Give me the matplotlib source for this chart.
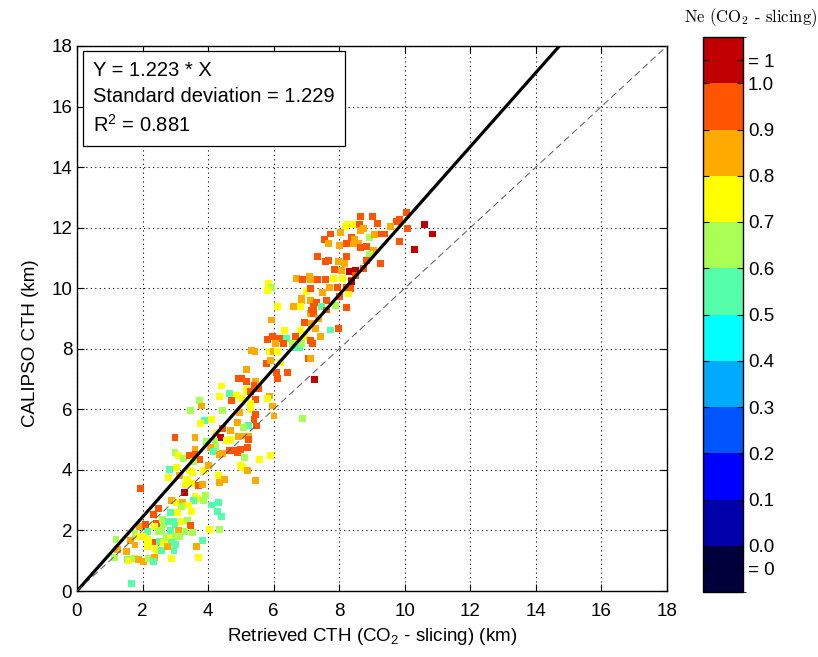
import numpy as np
import matplotlib
matplotlib.use('Agg')
import matplotlib.pyplot as plt
from matplotlib.colors import ListedColormap, BoundaryNorm
from matplotlib.cm import ScalarMappable

plt.rcParams['font.family'] = ['Liberation Sans', 'DejaVu Sans']

# Ne class values used for the point colours
T, G, Y, O, RO, DR = 0.55, 0.65, 0.75, 0.85, 0.95, 1.0

# retrieved CTH (CO2 slicing), CALIPSO CTH, Ne
cth_co2 = [
    1.95, 3.32, 3.52, 3.70, 3.82, 3.27, 3.60, 3.68, 3.91, 4.09, 3.55, 3.87, 2.89, 3.04, 3.21, 3.19, 3.40, 3.48,
    2.50, 2.33, 2.43, 2.60, 2.84, 3.07, 1.92, 2.08, 2.16, 2.36, 2.63, 2.79, 2.94, 2.99, 3.19, 3.38, 3.45, 3.52,
    3.29, 3.11, 2.84, 2.58, 2.48, 4.03, 1.77, 1.87, 2.04, 2.16, 2.28, 2.40, 2.53, 2.63, 2.72, 2.84, 2.99, 3.14,
    2.89, 3.02, 1.19, 1.62, 1.77, 2.16, 2.38, 2.46, 2.58, 2.77, 2.96, 3.65, 3.82, 1.24, 1.52, 1.14, 1.55, 1.57,
    1.75, 1.87, 2.02, 2.18, 2.36, 2.33, 2.87, 3.70, 1.67,
    4.31, 4.42, 4.28, 4.36, 5.89,
    4.34, 4.65, 4.87, 4.72, 5.02, 5.18, 5.46, 5.30, 3.73, 3.80, 3.45, 4.44, 4.97, 5.28, 5.46, 5.40, 3.88, 3.77,
    4.09, 4.89, 5.23, 5.48, 4.44, 4.67, 5.07, 2.99, 3.60, 4.26, 4.38, 4.55, 4.69, 4.92, 5.07, 5.23, 5.23, 4.65,
    4.79, 4.89, 4.99, 5.20, 3.96, 4.21, 4.24, 4.08, 3.60, 4.16, 4.34, 4.44, 2.99, 3.09, 3.24, 3.43, 3.60, 3.73,
    3.55, 5.11, 5.58, 2.82, 3.04, 3.43, 3.53, 3.85, 4.01, 4.31, 4.49, 4.99, 5.06, 5.20, 5.46, 2.79, 3.14, 3.38,
    4.36,
    7.11, 7.21, 7.36, 6.93, 7.16, 5.94, 6.32, 6.82, 7.29, 5.81, 5.97, 6.17, 6.38, 6.68, 6.93, 7.11, 7.19, 6.07,
    6.29, 6.58, 6.68, 6.78, 6.85, 5.33, 5.43, 5.87, 5.99, 6.11, 7.06, 7.13, 5.77, 5.89, 6.21, 5.16, 6.09, 6.42,
    6.11, 4.92, 5.02, 5.18, 5.46, 5.40, 5.53, 7.26, 4.41, 5.16, 5.30, 5.87, 5.81, 5.97, 6.01, 6.88,
    7.74, 7.54, 7.67, 7.33, 7.57, 7.67, 7.09, 7.11, 6.70, 6.89, 7.33, 7.57, 5.84, 5.94, 5.81, 6.99, 7.13, 7.50,
    7.70, 6.85, 6.85, 7.11, 7.31, 7.62, 6.11, 6.60, 6.82, 7.21, 7.47, 7.16, 7.62, 7.74, 7.97, 7.44,
    8.65, 9.02, 8.25, 8.41, 8.20, 8.61, 8.73, 8.65, 9.16, 9.83, 9.75, 9.55, 10.08, 10.04, 10.59, 10.85, 10.31,
    9.85, 9.26, 9.37, 8.92, 9.09, 8.38, 8.48, 8.58, 8.43, 8.04, 8.00, 8.23, 8.65, 8.82, 9.06, 8.92, 8.21, 7.97,
    8.15, 9.26, 8.84, 8.74, 8.51, 8.31, 7.87, 8.07, 7.82, 8.10, 8.38, 8.51, 7.94, 8.21, 8.35, 8.28, 8.02, 7.90,
    8.23, 8.38,
]
cth_calipso = [
    3.39, 3.53, 3.56, 3.50, 3.53, 3.25, 3.12, 3.06, 3.14, 2.84, 2.98, 2.98, 2.98, 2.92, 2.92, 2.79, 2.84, 2.62,
    2.73, 2.54, 2.23, 2.37, 2.59, 2.59, 2.12, 2.21, 1.96, 2.12, 2.23, 2.29, 2.29, 2.18, 2.29, 2.32, 2.15, 1.93,
    1.96, 1.99, 2.01, 2.01, 1.96, 2.04, 1.90, 1.79, 1.79, 1.71, 1.60, 1.60, 1.63, 1.60, 1.77, 1.74, 1.79, 1.79,
    1.60, 1.55, 1.71, 1.66, 1.52, 1.46, 1.41, 1.33, 1.35, 1.46, 1.33, 1.46, 1.68, 1.37, 1.30, 1.11, 1.04, 1.00,
    1.08, 1.04, 0.97, 1.08, 1.11, 0.97, 1.08, 1.11, 0.25,
    2.92, 2.45, 2.62, 2.04, 4.49,
    6.42, 6.51, 6.47, 6.29, 6.36, 6.58, 6.33, 6.18, 6.29, 6.11, 5.95, 5.95, 5.89, 6.00, 5.84, 5.67, 5.62, 5.52,
    5.67, 5.56, 5.48, 5.45, 5.37, 5.30, 5.40, 5.07, 5.07, 5.21, 5.07, 4.96, 4.99, 5.10, 5.12, 5.12, 4.99, 4.63,
    4.65, 4.57, 4.68, 4.74, 4.93, 4.93, 4.77, 4.74, 4.68, 4.60, 4.52, 4.55, 4.57, 4.49, 4.38, 4.46, 4.52, 4.35,
    4.27, 4.40, 4.35, 4.02, 4.08, 3.97, 3.91, 3.97, 4.16, 3.80, 3.69, 4.13, 4.09, 3.97, 3.66, 3.75, 3.80, 3.69,
    3.58,
    9.15, 9.15, 9.00, 8.86, 8.84, 8.95, 8.60, 8.60, 8.67, 8.31, 8.40, 8.34, 8.34, 8.42, 8.42, 8.27, 8.16, 8.16,
    8.18, 8.18, 8.05, 8.05, 8.18, 7.94, 7.90, 7.90, 7.90, 7.90, 7.68, 7.68, 7.52, 7.61, 7.54, 7.32, 7.21, 7.21,
    7.02, 7.02, 7.02, 6.91, 6.91, 6.80, 6.69, 6.97, 6.77, 6.64, 6.58, 6.44, 6.36, 6.11, 5.78, 5.70,
    11.79, 11.61, 11.48, 11.06, 10.88, 10.93, 10.40, 10.29, 10.33, 10.29, 10.29, 10.29, 10.16, 10.03, 9.92, 9.88,
    9.99, 9.85, 10.03, 9.66, 9.58, 9.59, 9.52, 9.61, 9.39, 9.39, 9.41, 9.39, 9.41, 9.28, 9.28, 8.62, 8.67, 8.42,
    12.38, 12.38, 12.09, 12.12, 12.03, 12.12, 11.98, 11.90, 12.14, 12.27, 12.20, 12.03, 11.98, 12.49, 12.09,
    11.79, 11.28, 11.54, 11.79, 11.79, 11.68, 11.76, 11.68, 11.61, 11.48, 11.46, 11.83, 11.42, 11.48, 11.35,
    11.37, 11.26, 11.10, 11.06, 10.88, 10.82, 10.82, 10.93, 10.66, 10.58, 10.55, 10.62, 10.60, 10.33, 10.33,
    10.27, 10.43, 10.03, 10.03, 10.00, 9.81, 9.72, 9.44, 9.37, 10.22,
]
ne = [
    RO, Y, Y, RO, O, DR, Y, Y, G, T, T, G, O, Y, O, G, Y, Y,
    RO, RO, RO, G, T, Y, O, RO, T, Y, G, T, T, T, Y, G, RO, G,
    G, O, T, G, G, Y, G, Y, Y, Y, Y, RO, T, Y, G, Y, G, G,
    T, T, G, O, O, Y, Y, Y, T, O, T, O, T, O, O, G, T, Y,
    G, O, O, G, O, T, Y, Y, T,
    T, T, T, G, Y,
    Y, T, Y, RO, Y, Y, RO, Y, G, O, G, G, O, Y, RO, RO, T, Y,
    Y, O, T, RO, RO, O, G, RO, O, Y, DR, Y, Y, O, O, O, RO, RO,
    RO, RO, RO, RO, G, G, G, O, O, T, O, O, G, Y, G, RO, RO, RO,
    G, G, Y, T, Y, Y, Y, Y, O, Y, O, Y, Y, O, O, Y, O, Y,
    O,
    O, RO, O, RO, O, O, Y, Y, O, RO, RO, RO, T, RO, Y, RO, RO, O,
    RO, G, T, T, G, O, O, Y, O, Y, RO, O, RO, O, Y, O, RO, RO,
    RO, RO, RO, RO, O, RO, RO, DR, Y, Y, RO, O, Y, O, O, G,
    RO, RO, O, RO, RO, RO, O, O, O, RO, RO, RO, Y, G, Y, Y, RO, O,
    O, O, O, O, RO, RO, Y, O, Y, RO, T, RO, RO, T, RO, O,
    RO, RO, Y, Y, Y, RO, O, O, RO, RO, RO, O, RO, RO, DR, DR, DR,
    RO, RO, RO, G, O, RO, O, O, O, O, O, RO, RO, RO, O, G, RO, O,
    O, RO, RO, RO, DR, DR, RO, O, Y, Y, RO, RO, RO, RO, RO, Y, RO, G,
    RO, DR,
]

slope = 1.223
std_dev = 1.229
r2 = 0.881

# colour classes: "= 0", 0.0-0.1, ..., 0.9-1.0, "= 1"
class_colors = ['#00003c', '#0000aa', '#0000ff', '#0055ff', '#00aaff', '#00ffff',
                '#55ffaa', '#aaff55', '#ffff00', '#ffaa00', '#ff5500', '#c00000']
bounds = [-0.1, 0.0, 0.1, 0.2, 0.3, 0.4, 0.5, 0.6, 0.7, 0.8, 0.9, 1.0, 1.1]
cb_ticks = [-0.05, 0.0, 0.1, 0.2, 0.3, 0.4, 0.5, 0.6, 0.7, 0.8, 0.9, 1.0, 1.05]
cb_labels = ['= 0', '0.0', '0.1', '0.2', '0.3', '0.4', '0.5', '0.6', '0.7', '0.8', '0.9', '1.0', '= 1']

cmap = ListedColormap(class_colors)
norm = BoundaryNorm(bounds, cmap.N)

fig = plt.figure(figsize=(8.18, 6.57), dpi=100)
ax = fig.add_axes([77/818, 1-591/657, 590/818, 545/657])
cax = fig.add_axes([703/818, 1-592/657, 40/818, 555/657])

ax.scatter(cth_co2, cth_calipso, c=ne, cmap=cmap, norm=norm, marker='s', s=25,
           edgecolors='none', zorder=2)

xs = np.array([0, 18])
ax.plot(xs, slope*xs, color='k', lw=2.3, zorder=3)
ax.plot(xs, xs, color='0.35', lw=0.7, dashes=(7, 4), zorder=3)

ax.set_xlim(0, 18)
ax.set_ylim(0, 18)
ax.set_xticks(np.arange(0, 19, 2))
ax.set_yticks(np.arange(0, 19, 2))
ax.grid(True, color='k', linestyle=(0, (1, 3)), lw=0.8)
ax.tick_params(direction='in', top=True, right=True, length=5, width=0.8, labelsize=13.5)
ax.tick_params(axis='x', pad=9)
for s in ax.spines.values():
    s.set_linewidth(1.0)

ax.set_xlabel('Retrieved CTH (CO$_{\\mathregular{2}}$ - slicing) (km)', fontsize=13.5)
ax.set_ylabel('CALIPSO CTH (km)', fontsize=13.5)
ax.xaxis.set_label_coords(0.5, -0.065)
ax.yaxis.set_label_coords(-0.065, 0.455)

ax.text(0.027, 0.972,
        'Y = %.3f * X\nStandard deviation = %.3f\nR$^{\\mathregular{2}}$ = %.3f' % (slope, std_dev, r2),
        transform=ax.transAxes, ha='left', va='top', fontsize=14.5, linespacing=1.45,
        bbox=dict(boxstyle='square,pad=0.5', facecolor='white', edgecolor='k', lw=0.9), zorder=5)

sm = ScalarMappable(norm=norm, cmap=cmap)
cb = fig.colorbar(sm, cax=cax, boundaries=bounds, ticks=cb_ticks)
cb.ax.set_yticklabels(cb_labels)
cb.ax.tick_params(direction='in', left=True, right=True, length=4, width=0.8, labelsize=13.5)
cb.outline.set_linewidth(1.0)

fig.text(0.918, 0.973, 'Ne (CO$_2$ - slicing)', fontfamily='cmr10', math_fontfamily='cm',
         fontsize=12, ha='center', va='center')

fig.savefig('out.png', dpi=100)
